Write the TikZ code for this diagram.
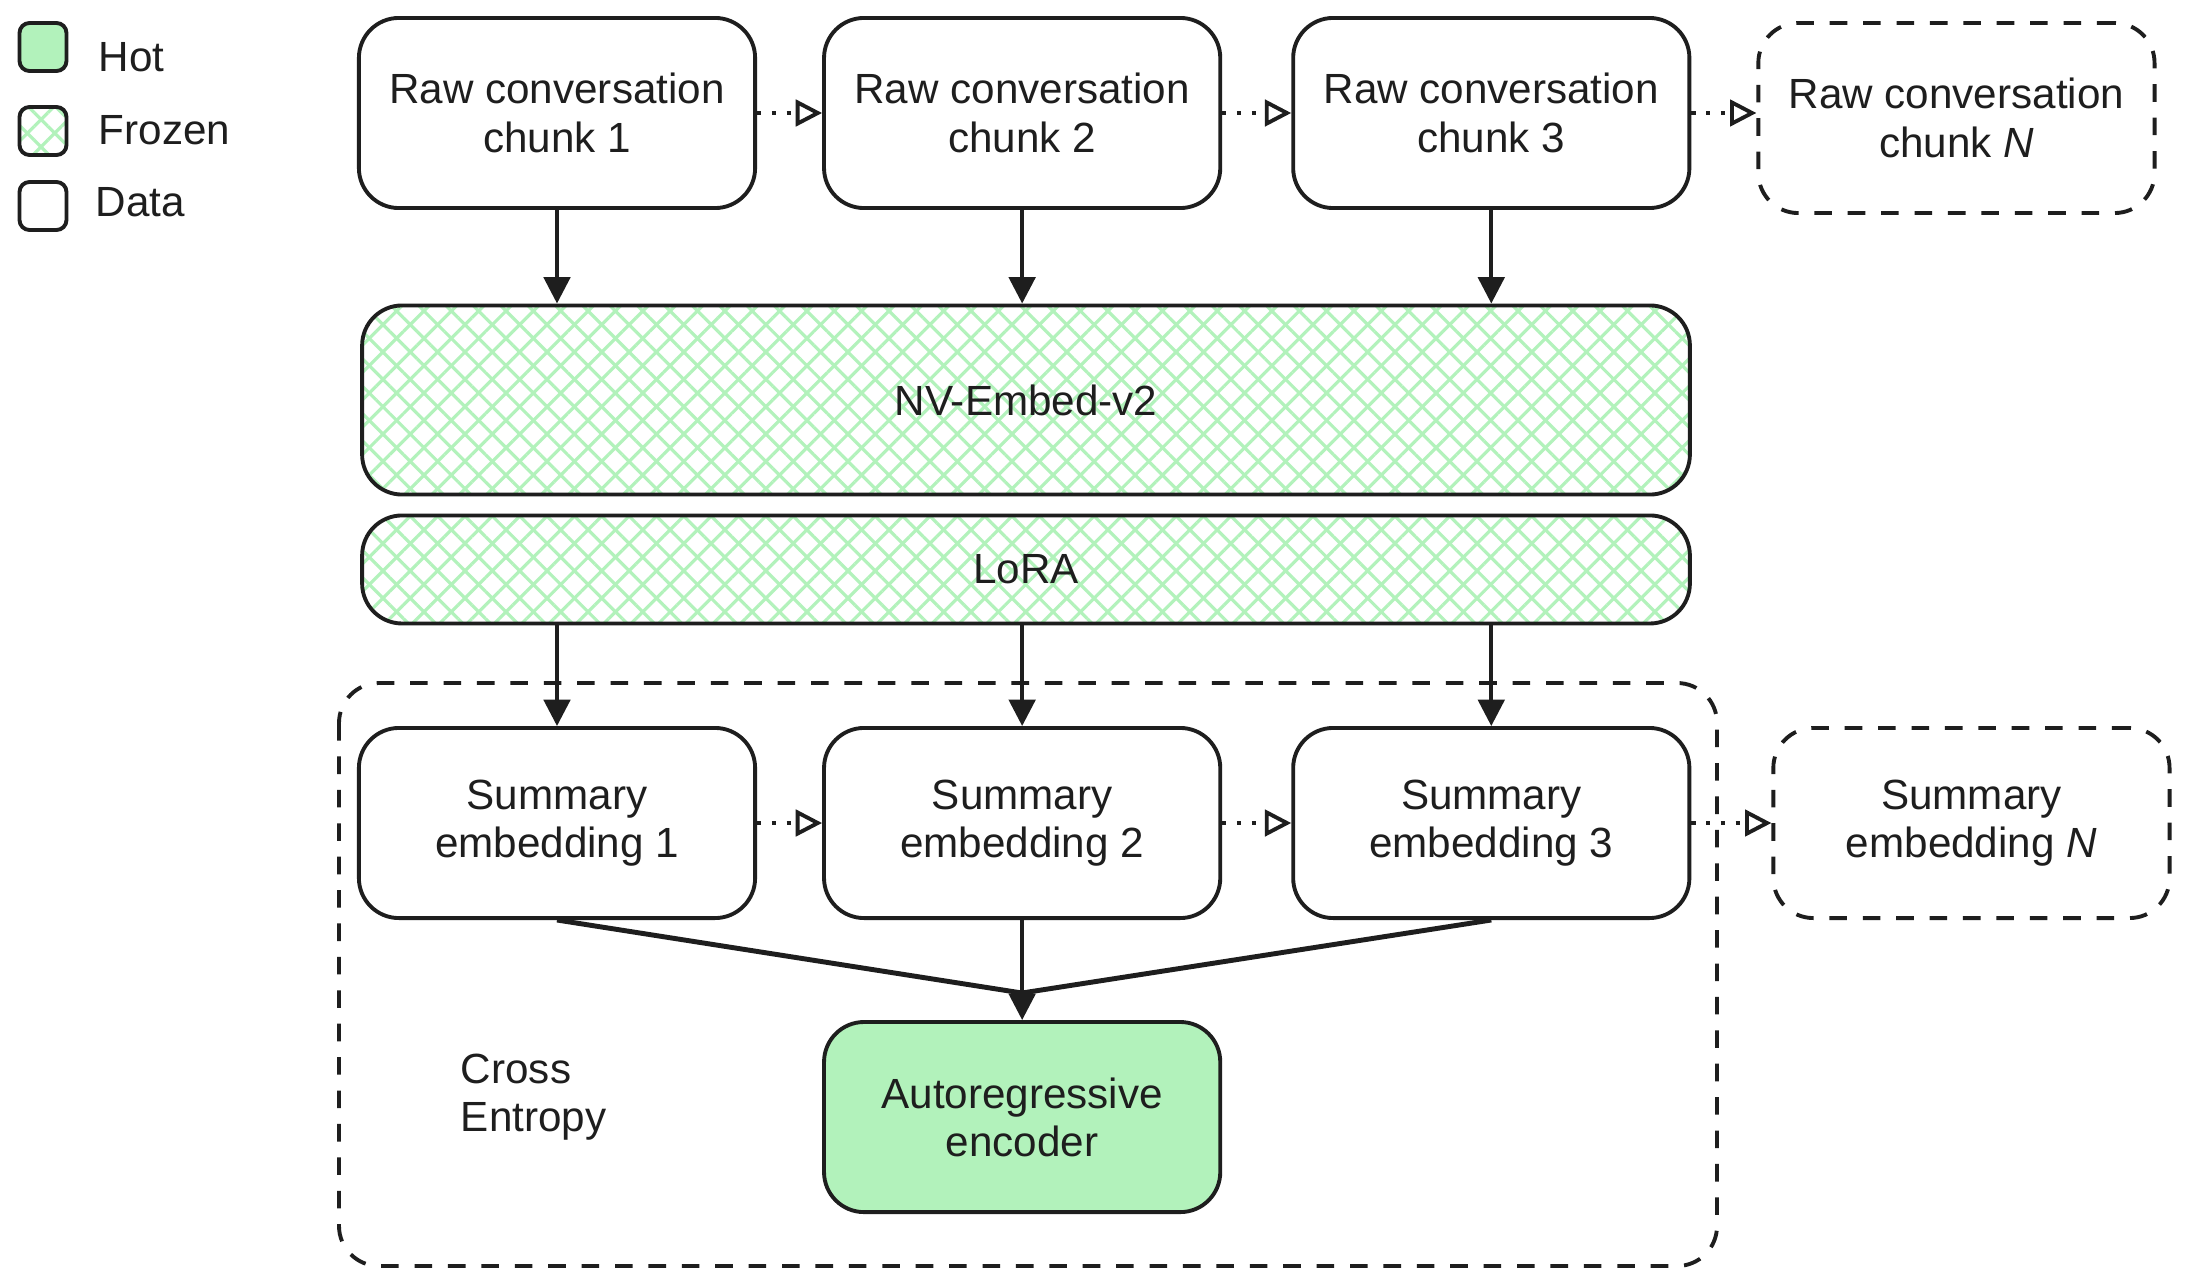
\documentclass[tikz,border=0pt]{standalone}
\usepackage{fontspec}
\setmainfont{Liberation Sans}
\usetikzlibrary{positioning,arrows.meta,patterns.meta}
\definecolor{ink}{HTML}{1E1E1E}
\definecolor{hotgreen}{HTML}{B2F2BB}

\begin{document}
\begin{tikzpicture}[x=0.01cm,y=-0.01cm,node distance=0.65cm,line width=1.1pt,draw=ink,
                    every node/.style={font=\fontsize{12}{13.7}\selectfont,text=ink},
                    frozen fill/.style={pattern={Lines[angle=45,distance=5.5pt,line width=0.9pt]},pattern color=hotgreen,
                                        preaction={pattern={Lines[angle=-45,distance=5.5pt,line width=0.9pt]},pattern color=hotgreen}},
                    data node/.style={rectangle,draw=ink,rounded corners=0.4cm,fill=white,align=center,
                                      minimum width=3.96cm,minimum height=1.9cm,inner sep=2pt},
                    future node/.style={data node,dash pattern=on 5pt off 4.5pt},
                    hot node/.style={data node,fill=hotgreen},
                    frozen node/.style={data node,frozen fill},
                    key/.style={rectangle,draw=ink,rounded corners=0.1cm,minimum width=0.47cm,minimum height=0.48cm,inner sep=0pt},
                    flow/.style={draw=ink,-{Triangle[length=7.5pt,width=7.5pt]}},
                    next/.style={draw=ink,dash pattern=on 1.2pt off 3pt,-{Triangle[open,length=7.5pt,width=7.5pt,line width=1.1pt]}}]

          \path[fill=white,use as bounding box] (0,0) rectangle (2186,1282);

          % legend
          \node[key,fill=hotgreen] (12) at (43,47) {};
          \node[key,frozen fill] (13) at (43,131) {};
          \node[key] (14) at (43,206) {};
          \node[anchor=base west,inner sep=0pt] at (97,72) {Hot};
          \node[anchor=base west,inner sep=0pt] at (97,144) {Frozen};
          \node[anchor=base west,inner sep=0pt] at (94,216) {Data};

          \draw[ink,dash pattern=on 5pt off 4.5pt,rounded corners=0.4cm] (339,683) rectangle (1717,1266);

          \node[data node] (1) at (557,113) {Raw conversation\\chunk 1};
          \node[data node] (2) [right=of 1] {Raw conversation\\chunk 2};
          \node[data node] (3) [right=0.69cm of 2] {Raw conversation\\chunk 3};
          \node[future node] (4) [right=0.65cm of 3,yshift=-0.05cm] {Raw conversation\\chunk \textit{N}};

          \node[frozen node,minimum width=13.27cm,minimum height=1.89cm] (5) at (1026,400) {NV-Embed-v2};
          \node[frozen node,minimum width=13.27cm,minimum height=1.08cm] (6) [below=0.17cm of 5] {LoRA};

          \node[data node] (7) at (557,823) {Summary\\embedding 1};
          \node[data node] (8) [right=of 7] {Summary\\embedding 2};
          \node[data node] (9) [right=0.69cm of 8] {Summary\\embedding 3};
          \node[future node] (10) [right=0.8cm of 9] {Summary\\embedding \textit{N}};

          \node[hot node] (11) [below=1cm of 8] {Autoregressive\\encoder};
          \node[align=left,anchor=west,inner sep=0pt] (15) at (459,1097) {Cross\\Entropy};

          \coordinate (m) at (1022,993);

          \path
          (1) edge [next] (2)
          (2) edge [next] (3)
          (3) edge [next] (3 -| 4.west)

          (1) edge [flow] (1 |- 5.north)
          (2) edge [flow] (2 |- 5.north)
          (3) edge [flow] (3 |- 5.north)

          (6.south -| 7) edge [flow] (7)
          (6.south -| 8) edge [flow] (8)
          (6.south -| 9) edge [flow] (9)

          (7) edge [next] (8)
          (8) edge [next] (9)
          (9) edge [next] (9 -| 10.west)

          (8) edge [flow] (11);

          \draw[ink,line width=1.4pt] (7.south) -- (m) -- (9.south);

\end{tikzpicture}
\end{document}
